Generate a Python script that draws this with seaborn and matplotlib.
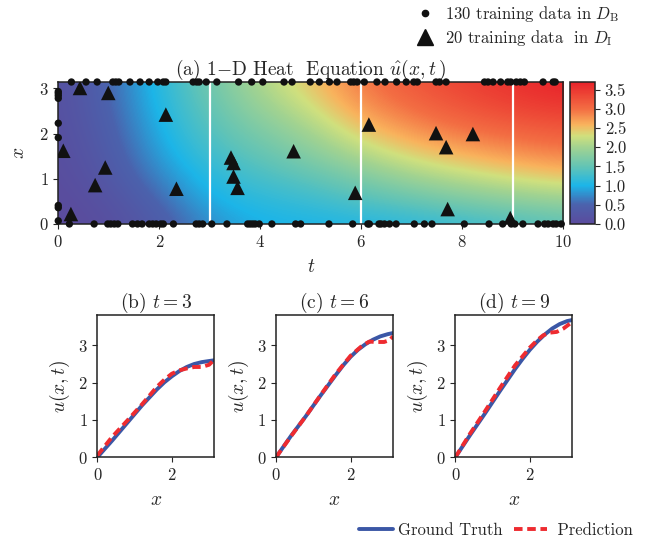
import numpy as np
import matplotlib
matplotlib.use('Agg')
import matplotlib.pyplot as plt
import seaborn as sns
from matplotlib.colors import LinearSegmentedColormap
from matplotlib.lines import Line2D

# field u_hat(x, t), rows x = 0 .. pi, columns t = 0 .. 10
t_grid = np.arange(0, 11)
x_grid = np.linspace(0, np.pi, 7)
u_field = np.array([
    [0.00, 0.08, 0.35, 0.78, 0.98, 1.00, 1.05, 1.12, 1.22, 1.32, 1.45],
    [0.02, 0.15, 0.52, 0.98, 1.12, 1.22, 1.38, 1.52, 1.68, 1.82, 1.92],
    [0.04, 0.25, 0.72, 1.12, 1.32, 1.48, 1.72, 1.98, 2.18, 2.33, 2.48],
    [0.06, 0.33, 0.88, 1.28, 1.52, 1.78, 2.12, 2.42, 2.62, 2.78, 2.90],
    [0.08, 0.40, 0.98, 1.42, 1.72, 2.02, 2.48, 2.78, 2.98, 3.10, 3.20],
    [0.10, 0.46, 1.06, 1.52, 1.92, 2.28, 2.78, 3.03, 3.24, 3.40, 3.50],
    [0.10, 0.50, 1.12, 1.62, 2.08, 2.48, 2.93, 3.20, 3.40, 3.55, 3.70],
])

# boundary training points (D_B)
t_top = [0.26, 0.55, 0.77, 1.08, 1.14, 1.20, 1.42, 1.62, 1.80, 1.97, 2.08, 2.13,
         2.67, 2.74, 2.79, 2.93, 3.14, 3.57, 3.83, 4.05, 4.47, 4.63, 4.99, 5.17,
         5.37, 5.52, 5.79, 5.85, 5.92, 6.06, 6.31, 6.47, 6.70, 6.89, 7.04, 7.11,
         7.48, 7.55, 7.68, 8.44, 8.51, 8.61, 8.76, 8.90, 8.96, 9.07, 9.15, 9.23,
         9.60, 9.80, 9.84]
t_bottom = [0.22, 0.71, 0.98, 1.04, 1.11, 1.18, 1.47, 1.57, 1.66, 1.80, 1.87, 1.94,
            2.03, 2.08, 2.28, 2.73, 2.79, 2.86, 3.04, 3.34, 3.75, 3.80, 3.85, 3.90,
            3.98, 4.23, 4.70, 4.80, 5.36, 5.83, 6.13, 6.16, 6.35, 6.39, 6.46, 6.56,
            6.69, 7.05, 7.25, 7.40, 8.04, 8.53, 8.80, 8.97, 9.04, 9.20, 9.50, 9.63,
            9.70, 9.80, 9.86, 9.96]
x_left = [2.93, 2.89, 2.84, 2.78, 2.23, 1.91, 0.41, 0.36, 0.07]

# interior training points (D_I)
t_tri = [0.43, 0.99, 2.13, 0.10, 0.93, 0.73, 0.25, 2.34, 3.42, 3.47,
         3.47, 3.55, 4.66, 5.88, 6.15, 7.48, 7.68, 8.21, 7.71, 8.95]
x_tri = [3.01, 2.90, 2.42, 1.62, 1.25, 0.86, 0.22, 0.78, 1.47, 1.35,
         1.05, 0.80, 1.61, 0.69, 2.20, 2.01, 1.70, 1.99, 0.33, 0.13]

# profiles at t = 3, 6, 9
x_true = [0, 0.4, 0.8, 1.2, 1.6, 1.8, 2.0, 2.2, 2.4, 2.6, 2.8, 3.0, np.pi]
u_true = {
    3: [0, 0.45, 0.92, 1.39, 1.82, 2.01, 2.17, 2.31, 2.42, 2.50, 2.55, 2.58, 2.60],
    6: [0, 0.57, 1.10, 1.66, 2.20, 2.46, 2.69, 2.88, 3.03, 3.15, 3.24, 3.30, 3.33],
    9: [0, 0.60, 1.18, 1.78, 2.36, 2.63, 2.88, 3.10, 3.29, 3.45, 3.57, 3.65, 3.68],
}
x_pred = {
    3: [0, 0.4, 0.8, 1.2, 1.6, 1.8, 2.0, 2.2, 2.4, 2.6, 2.8, 3.0, np.pi],
    6: [0, 0.4, 0.8, 1.2, 1.6, 2.0, 2.3, 2.5, 2.7, 2.9, 3.05, np.pi],
    9: [0, 0.4, 0.8, 1.2, 1.6, 2.0, 2.2, 2.36, 2.54, 2.72, 2.9, np.pi],
}
u_pred = {
    3: [0.05, 0.55, 0.98, 1.42, 1.89, 2.08, 2.24, 2.33, 2.38, 2.42, 2.42, 2.48, 2.62],
    6: [0, 0.56, 1.10, 1.67, 2.23, 2.72, 2.98, 3.10, 3.09, 3.09, 3.14, 3.24],
    9: [0, 0.64, 1.24, 1.86, 2.46, 2.94, 3.14, 3.27, 3.34, 3.36, 3.45, 3.63],
}

sns.set_style('ticks')
plt.rcParams['font.family'] = ['cmr10', 'DejaVu Serif']
plt.rcParams['mathtext.fontset'] = 'cm'
plt.rcParams['axes.formatter.use_mathtext'] = True
plt.rcParams['axes.edgecolor'] = '#222222'
plt.rcParams['axes.linewidth'] = 1.1

cmap = LinearSegmentedColormap.from_list('heat', [
    (0.00, '#5b4b9d'), (0.135, '#4b62ad'), (0.27, '#1cb5e8'), (0.405, '#63c4b5'),
    (0.54, '#a2d391'), (0.62, '#d0e07d'), (0.70, '#f9b35d'), (0.81, '#f36e43'),
    (1.00, '#e8222a')])

fig = plt.figure(figsize=(6.54, 5.37), dpi=100)
ax = fig.add_axes([0.0891, 0.5829, 0.7722, 0.2644])
cax = fig.add_axes([0.8716, 0.5829, 0.0382, 0.2644])

dx = x_grid[1] - x_grid[0]
im = ax.imshow(u_field, origin='lower', aspect='auto', cmap=cmap, vmin=0, vmax=3.7,
               interpolation='bicubic',
               extent=(-0.5, 10.5, -dx / 2, np.pi + dx / 2))
for tv in [3, 6, 9]:
    ax.axvline(tv, color='white', lw=1.6, zorder=2)

sns.scatterplot(x=t_top, y=[np.pi] * len(t_top), ax=ax, color='#111111', s=28,
                edgecolor='none', zorder=4, clip_on=False)
sns.scatterplot(x=t_bottom, y=[0] * len(t_bottom), ax=ax, color='#111111', s=28,
                edgecolor='none', zorder=4, clip_on=False)
sns.scatterplot(x=[0] * len(x_left), y=x_left, ax=ax, color='#111111', s=28,
                edgecolor='none', zorder=4, clip_on=False)
sns.scatterplot(x=t_tri, y=x_tri, ax=ax, color='#111111', marker='^', s=110,
                edgecolor='none', zorder=5)

ax.set_xlim(0, 10)
ax.set_ylim(0, np.pi)
ax.set_xticks([0, 2, 4, 6, 8, 10])
ax.set_yticks([0, 1, 2, 3])
ax.set_xlabel('$t$', fontsize=14, labelpad=6)
ax.set_ylabel('$x$', fontsize=14, labelpad=8)
ax.set_title(r'(a) 1$-$D Heat  Equation $\hat{u}(x,t\,)$', fontsize=14, pad=5)
ax.tick_params(labelsize=12)

cb = fig.colorbar(im, cax=cax)
cb.set_ticks([0.0, 0.5, 1.0, 1.5, 2.0, 2.5, 3.0, 3.5])
cb.ax.set_yticklabels(['0.0', '0.5', '1.0', '1.5', '2.0', '2.5', '3.0', '3.5'])
cb.ax.tick_params(labelsize=12)
cb.outline.set_linewidth(1.1)

lefts = [0.1488, 0.4220, 0.6962]
letters = ['b', 'c', 'd']
for left, letter, tv in zip(lefts, letters, [3, 6, 9]):
    bx = fig.add_axes([left, 0.1484, 0.179, 0.2641])
    sns.lineplot(x=x_true, y=u_true[tv], ax=bx, color='#3b57a6', lw=2.8)
    sns.lineplot(x=x_pred[tv], y=u_pred[tv], ax=bx, color='#ee2b30', lw=2.8,
                 linestyle=(0, (2.2, 1.2)))
    bx.set_xlim(0, np.pi)
    bx.set_ylim(0, 3.8)
    bx.set_xticks([0, 2])
    bx.set_yticks([0, 1, 2, 3])
    bx.set_xlabel('$x$', fontsize=14, labelpad=6)
    bx.set_ylabel('$u(x,t)$', fontsize=14)
    bx.set_title('(%s) $t=%d$' % (letter, tv), fontsize=14, pad=5)
    bx.tick_params(labelsize=12)

top_handles = [
    Line2D([], [], ls='none', marker='o', color='#111111', ms=4.5),
    Line2D([], [], ls='none', marker='^', color='#111111', ms=11),
]
fig.legend(top_handles, [r'130 training data in $D_\mathrm{B}$',
                         r'20 training data  in $D_\mathrm{I}$'],
           loc='upper left', bbox_to_anchor=(0.611, 1.021), frameon=False,
           fontsize=12, handlelength=1.2, handletextpad=0.6, labelspacing=0.25)

bottom_handles = [
    Line2D([], [], color='#3b57a6', lw=2.8),
    Line2D([], [], color='#ee2b30', lw=2.8, ls=(0, (2.2, 1.2))),
]
fig.legend(bottom_handles, ['Ground Truth', ' Prediction'],
           loc='lower right', bbox_to_anchor=(0.991, -0.03), ncol=2, frameon=False,
           fontsize=12, handlelength=2.0, handletextpad=0.3, columnspacing=0.7)

fig.savefig('out.png', dpi=100)
